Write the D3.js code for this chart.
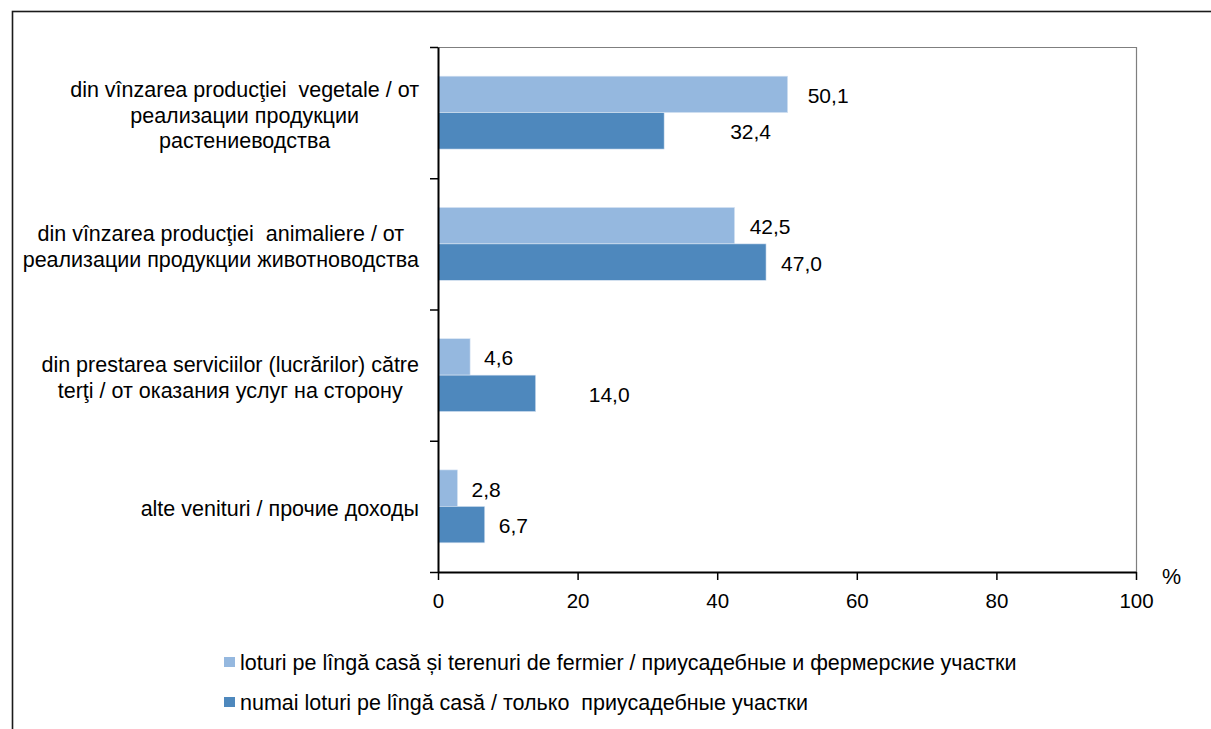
<!DOCTYPE html>
<html><head><meta charset="utf-8">
<script src="https://cdn.jsdelivr.net/npm/d3@7"></script>
<style>body{margin:0;background:#fff}svg{display:block}text{font-family:Arial,"Liberation Sans",sans-serif;fill:#000;white-space:pre}</style>
</head><body><svg id="c" width="1211" height="729"></svg>
<script>
const categories = [
  ["din vînzarea producţiei  vegetale / от", "реализации продукции", "растениеводства"],
  ["din vînzarea producţiei  animaliere / от", "реализации продукции животноводства"],
  ["din prestarea serviciilor (lucrărilor) către", "terţi / от оказания услуг на сторону"],
  ["alte venituri / прочие доходы"]
];
const seriesNames = [
  "loturi pe lîngă casă și terenuri de fermier / приусадебные и фермерские участки",
  "numai loturi pe lîngă casă / только  приусадебные участки"
];
const seriesLight = [50.1, 42.5, 4.6, 2.8];
const seriesDark = [32.4, 47.0, 14.0, 6.7];
const xTicks = [0, 20, 40, 60, 80, 100];
const unitLabel = "%";
// extra horizontal shift of value labels (as placed in the source chart)
const labelNudgeLight = [6, 1, 0, 0];
const labelNudgeDark = [52, 1, 39, 0];

const colors = ["#95B8DF", "#4E88BD"];
const series = [seriesLight, seriesDark];
const nudges = [labelNudgeLight, labelNudgeDark];

const svg = d3.select("#c");
const L = 438, R = 1136, T = 47, B = 572;

// outer frame
svg.append("rect").attr("x", 12.5).attr("y", 11.5).attr("width", 1400).attr("height", 900)
  .attr("fill", "none").attr("stroke", "#1a1a1a").attr("stroke-width", 1.6);

const x = d3.scaleLinear().domain([0, 100]).range([L, R]);
const y = d3.scaleBand().domain(d3.range(categories.length)).range([T, B]).padding(0);
const groupW = y.bandwidth() / 1.8;
const inner = d3.scaleBand().domain(d3.range(series.length)).range([0, groupW]);

// plot area border (top/right)
svg.append("path").attr("d", `M${L},${T+0.5}H${R+0.5}V${B}`).attr("fill", "none")
  .attr("stroke", "#7f7f7f").attr("stroke-width", 1.2);

// bars
series.forEach((vals, s) => {
  svg.append("g").selectAll("rect").data(vals).join("rect")
    .attr("x", x(0))
    .attr("y", (d, i) => y(i) + (y.bandwidth() - groupW) / 2 + inner(s))
    .attr("width", d => x(d) - x(0))
    .attr("height", inner.bandwidth())
    .attr("fill", colors[s])
    .attr("stroke", "#dbe6f3").attr("stroke-width", 0.6);
  svg.append("g").selectAll("text").data(vals).join("text")
    .attr("x", (d, i) => x(d) + 14 + nudges[s][i])
    .attr("y", (d, i) => y(i) + (y.bandwidth() - groupW) / 2 + inner(s) + inner.bandwidth() / 2 + 8.5)
    .attr("font-size", 21)
    .text(d => d3.format(".1f")(d).replace(".", ","));
});

// x axis
const xa = svg.append("g").attr("transform", `translate(0,${B})`)
  .call(d3.axisBottom(x).tickValues(xTicks).tickSize(8).tickSizeOuter(0));
xa.select(".domain").attr("stroke", "#000").attr("stroke-width", 2);
xa.selectAll(".tick line").attr("stroke", "#000").attr("stroke-width", 1.5);
xa.selectAll(".tick text").attr("font-size", 20.5).attr("font-family", "Arial,'Liberation Sans',sans-serif")
  .attr("fill", "#000").attr("y", 36).attr("dy", 0);

// y axis (category boundaries)
const yb = d3.scaleLinear().domain([0, categories.length]).range([T, B]);
const ya = svg.append("g").attr("transform", `translate(${L},0)`)
  .call(d3.axisLeft(yb).ticks(categories.length).tickSize(8).tickSizeOuter(0).tickFormat(""));
ya.select(".domain").attr("stroke", "#000").attr("stroke-width", 2);
ya.selectAll(".tick line").attr("stroke", "#000").attr("stroke-width", 1.5);

// category labels
const lh = 25.5, labelRight = 419;
categories.forEach((lines, i) => {
  const g = svg.append("g");
  const texts = lines.map(l => g.append("text").attr("font-size", 21.5).attr("text-anchor", "middle").text(l));
  const maxW = d3.max(texts, t => t.node().getComputedTextLength());
  const cx = labelRight - maxW / 2;
  const cy = y(i) + y.bandwidth() / 2;
  texts.forEach((t, k) => t.attr("x", cx).attr("y", cy - (lines.length - 1) / 2 * lh + k * lh + 10));
});

// unit
svg.append("text").attr("x", 1162).attr("y", 584).attr("font-size", 21.5).text(unitLabel);

// legend
seriesNames.forEach((n, s) => {
  const by = 670 + s * 40;
  svg.append("rect").attr("x", 224).attr("y", by - 13).attr("width", 11).attr("height", 10).attr("fill", colors[s]);
  svg.append("text").attr("x", 240).attr("y", by).attr("font-size", 21.5).text(n);
});
</script></body></html>
